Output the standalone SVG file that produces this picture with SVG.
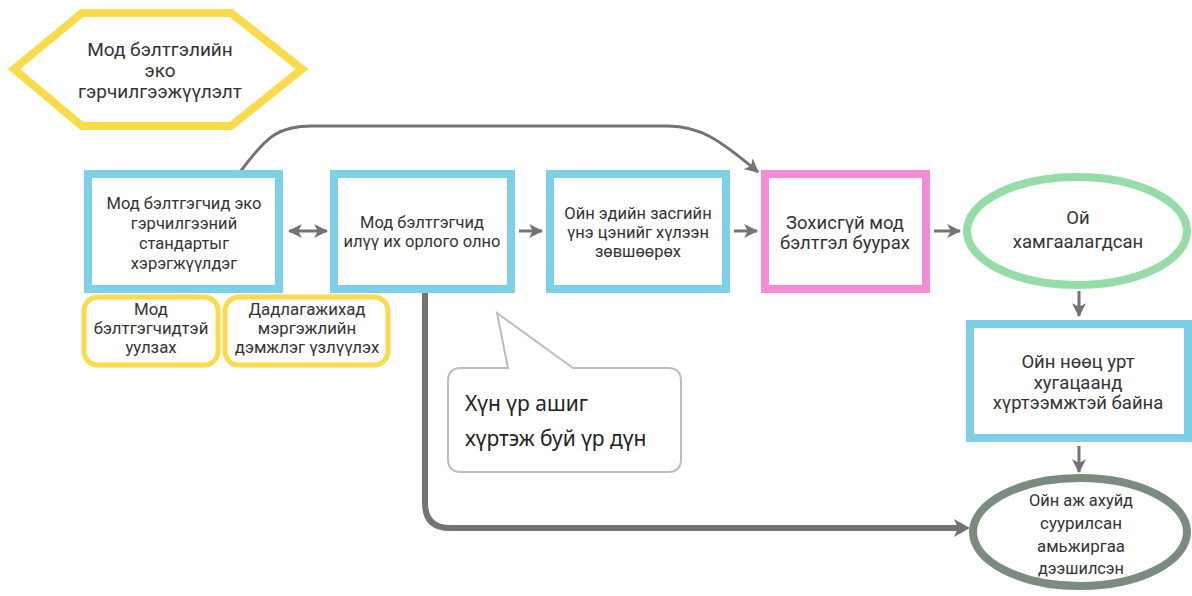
<svg xmlns="http://www.w3.org/2000/svg" width="1192" height="596" viewBox="0 0 1192 596">
<defs>
<style>
.t{font-family:Roboto,"Liberation Sans",sans-serif;font-size:16.5px;fill:#333;text-anchor:middle}
.tb{font-family:Roboto,"Liberation Sans",sans-serif;font-size:18.5px;fill:#333;text-anchor:middle}
.th{font-family:Roboto,"Liberation Sans",sans-serif;font-size:19px;fill:#333;text-anchor:middle}
.tc{font-family:Roboto,"Liberation Sans",sans-serif;font-size:17px;fill:#333;text-anchor:middle}
.tn{font-family:Roboto,"Liberation Sans",sans-serif;font-size:16.8px;fill:#333;text-anchor:middle}
.blue{fill:#fff;stroke:#7ED0E7;stroke-width:8}
.yel{fill:#fff;stroke:#FBDA4C;stroke-width:5}
.con{fill:none;stroke:#737373;stroke-width:3}
.ct{font-family:"Noto Sans","Open Sans",sans-serif;font-size:21px;fill:#222}
</style>
<marker id="ah" viewBox="0 0 12 12" refX="11" refY="6" markerWidth="14" markerHeight="14" markerUnits="userSpaceOnUse" orient="auto-start-reverse">
<path d="M0,0 L12,6 L0,12 L3,6 z" fill="#737373"/>
</marker>
</defs>
<rect width="1192" height="596" fill="#fff"/>

<g id="connectors">
<path class="con" d="M240,172 C268,134 280,126 312,126 L668,126 C700,126 720,140 758,172" marker-end="url(#ah)"/>
<line class="con" x1="289" y1="231" x2="327" y2="231" marker-start="url(#ah)" marker-end="url(#ah)"/>
<line class="con" x1="519" y1="231" x2="542" y2="231" marker-end="url(#ah)"/>
<line class="con" x1="734" y1="231" x2="757" y2="231" marker-end="url(#ah)"/>
<line class="con" x1="934" y1="231" x2="960" y2="231" marker-end="url(#ah)"/>
<line class="con" x1="1079" y1="291" x2="1079" y2="316" marker-end="url(#ah)"/>
<line class="con" x1="1079" y1="446" x2="1079" y2="472" marker-end="url(#ah)"/>
<path d="M425,293 L425,503 Q425,528 450,528 L958,528" fill="none" stroke="#737373" stroke-width="6"/>
<path d="M954,519 L970,528 L954,537 L958,528 z" fill="#737373"/>
</g>

<g id="hex">
<polygon points="14,69 82,13 231,13 302,69 231,126 82,126" fill="#fff" stroke="#FBDA4C" stroke-width="8"/>
<text class="th" x="160" y="56">Мод бэлтгэлийн</text>
<text class="th" x="160" y="77">эко</text>
<text class="th" x="160" y="98">гэрчилгээжүүлэлт</text>
</g>

<g id="box1">
<rect class="blue" x="88" y="174" width="191" height="115"/>
<text class="t" x="184" y="209">Мод бэлтгэгчид эко</text>
<text class="t" x="184" y="229">гэрчилгээний</text>
<text class="t" x="184" y="249">стандартыг</text>
<text class="t" x="184" y="269">хэрэгжүүлдэг</text>
</g>

<g id="box2">
<rect class="blue" x="334" y="174" width="177" height="115"/>
<text class="t" x="422" y="228">Мод бэлтгэгчид</text>
<text class="t" x="422" y="247">илүү их орлого олно</text>
</g>

<g id="box3">
<rect class="blue" x="550" y="174" width="176" height="115"/>
<text class="t" x="638" y="219">Ойн эдийн засгийн</text>
<text class="t" x="638" y="238">үнэ цэнийг хүлээн</text>
<text class="t" x="638" y="257">зөвшөөрөх</text>
</g>

<g id="box4">
<rect x="765" y="174" width="161" height="115" fill="#fff" stroke="#F48BD6" stroke-width="8"/>
<text class="tb" x="845" y="229">Зохисгүй мод</text>
<text class="tb" x="845" y="249">бэлтгэл буурах</text>
</g>

<g id="ellipse1">
<ellipse cx="1077" cy="231" rx="110" ry="54" fill="#fff" stroke="#95DCA8" stroke-width="8"/>
<text class="tb" x="1078" y="224">Ой</text>
<text class="tb" x="1078" y="248">хамгаалагдсан</text>
</g>

<g id="box5">
<rect class="blue" x="970" y="324" width="218" height="114"/>
<text class="tb" x="1078" y="368">Ойн нөөц урт</text>
<text class="tb" x="1078" y="389">хугацаанд</text>
<text class="tb" x="1078" y="409">хүртээмжтэй байна</text>
</g>

<g id="ellipse2">
<ellipse cx="1080" cy="532" rx="107" ry="54" fill="#fff" stroke="#7A8C80" stroke-width="8"/>
<text class="tc" x="1081" y="506" textLength="104" lengthAdjust="spacingAndGlyphs">Ойн аж ахуйд</text>
<text class="tc" x="1081" y="529" textLength="82" lengthAdjust="spacingAndGlyphs">суурилсан</text>
<text class="tc" x="1081" y="552" textLength="88" lengthAdjust="spacingAndGlyphs">амьжиргаа</text>
<text class="tc" x="1081" y="574" textLength="86" lengthAdjust="spacingAndGlyphs">дээшилсэн</text>
</g>

<g id="note1">
<rect class="yel" x="84" y="297" width="134" height="68" rx="14"/>
<text class="tn" x="151" y="315">Мод</text>
<text class="tn" x="151" y="334">бэлтгэгчидтэй</text>
<text class="tn" x="151" y="353">уулзах</text>
</g>

<g id="note2">
<rect class="yel" x="225" y="297" width="163" height="68" rx="14"/>
<text class="tn" x="307" y="315">Дадлагажихад</text>
<text class="tn" x="307" y="334">мэргэжлийн</text>
<text class="tn" x="307" y="353">дэмжлэг үзлүүлэх</text>
</g>

<g id="callout">
<path d="M461,368 L508,368 L497,313 L573,368 L668,368 Q681,368 681,381 L681,459 Q681,472 668,472 L461,472 Q448,472 448,459 L448,381 Q448,368 461,368 z" fill="#fff" stroke="#BDBDBD" stroke-width="2"/>
<text class="ct" x="465" y="411">Хүн үр ашиг</text>
<text class="ct" x="465" y="446">хүртэж буй үр дүн</text>
</g>
</svg>
